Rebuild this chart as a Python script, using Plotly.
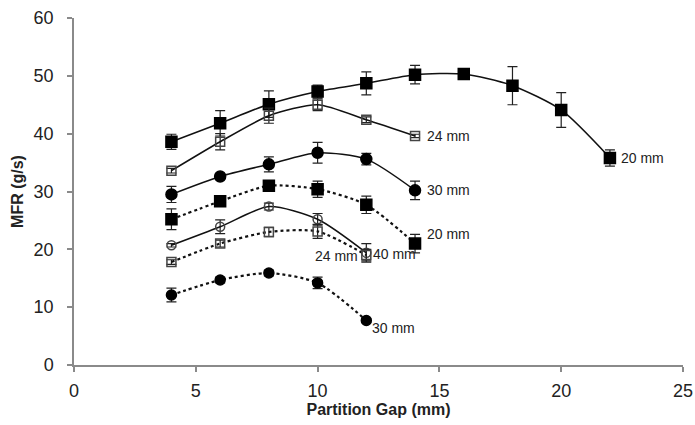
import plotly.graph_objects as go

# Partition gap values (mm)
gap_20_solid = [4, 6, 8, 10, 12, 14, 16, 18, 20, 22]
mfr_20_solid = [38.6, 41.8, 45.1, 47.3, 48.7, 50.2, 50.3, 48.3, 44.1, 35.8]
err_20_solid = [1.3, 2.2, 2.3, 1.1, 2.0, 1.6, 0.4, 3.3, 3.0, 1.4]

gap_24_solid = [4, 6, 8, 10, 12, 14]
mfr_24_solid = [33.6, 38.6, 43.1, 45.0, 42.4, 39.6]
err_24_solid = [0.4, 1.4, 1.3, 1.0, 0.5, 0.3]

gap_30_solid = [4, 6, 8, 10, 12, 14]
mfr_30_solid = [29.5, 32.6, 34.7, 36.7, 35.6, 30.2]
err_30_solid = [1.4, 0.4, 1.3, 1.8, 1.0, 1.6]

gap_20_dot = [4, 6, 8, 10, 12, 14]
mfr_20_dot = [25.2, 28.3, 31.0, 30.4, 27.7, 21.0]
err_20_dot = [1.8, 0.5, 0.5, 1.4, 1.5, 1.6]

gap_40_solid = [4, 6, 8, 10, 12]
mfr_40_solid = [20.7, 23.9, 27.4, 25.2, 19.4]
err_40_solid = [0.3, 1.2, 0.6, 1.0, 1.6]

gap_24_dot = [4, 6, 8, 10, 12]
mfr_24_dot = [17.8, 21.0, 23.0, 23.1, 19.0]
err_24_dot = [0.4, 0.6, 0.8, 1.2, 1.0]

gap_30_dot = [4, 6, 8, 10, 12]
mfr_30_dot = [12.1, 14.7, 15.9, 14.2, 7.7]
err_30_dot = [1.2, 0.5, 0.5, 1.0, 0.3]

x_ticks = [0, 5, 10, 15, 20, 25]
y_ticks = [0, 10, 20, 30, 40, 50, 60]

fig = go.Figure()

def add(xs, ys, es, symbol, size, dash, color="black"):
    fig.add_trace(go.Scatter(
        x=xs, y=ys, mode="lines+markers",
        line=dict(color="#111111", width=1.5 if dash == "solid" else 2.2, dash=dash, shape="spline", smoothing=0.7),
        marker=dict(symbol=symbol, size=size, color=color,
                    line=dict(color=color, width=1.5)),
        error_y=dict(type="data", array=es, visible=True, color="#222222", thickness=1.2, width=5),
        showlegend=False,
    ))

add(gap_20_solid, mfr_20_solid, err_20_solid, "square", 11, "solid")
add(gap_24_solid, mfr_24_solid, err_24_solid, "square-open", 9, "solid", "#444444")
add(gap_30_solid, mfr_30_solid, err_30_solid, "circle", 11, "solid")
add(gap_20_dot, mfr_20_dot, err_20_dot, "square", 11, "dot")
add(gap_40_solid, mfr_40_solid, err_40_solid, "circle-open", 9, "solid", "#444444")
add(gap_24_dot, mfr_24_dot, err_24_dot, "square-open", 9, "dot", "#444444")
add(gap_30_dot, mfr_30_dot, err_30_dot, "circle", 10, "dot")

font_txt = dict(family="Liberation Sans, Arial", size=14, color="#222222")
labels = [
    (gap_24_solid[-1], mfr_24_solid[-1], "24 mm", 10, 0),
    (gap_20_solid[-1], mfr_20_solid[-1], "20 mm", 9, 0),
    (gap_30_solid[-1], mfr_30_solid[-1], "30 mm", 10, 0),
    (gap_20_dot[-1], mfr_20_dot[-1], "20 mm", 10, 10),
    (gap_40_solid[-1], mfr_40_solid[-1], "40 mm", 5, -1),
    (gap_30_dot[-1], mfr_30_dot[-1], "30 mm", 4, -8),
]
for x, y, t, xs, ys in labels:
    fig.add_annotation(x=x, y=y, text=t, showarrow=False, xanchor="left",
                       xshift=xs, yshift=ys, font=font_txt)
fig.add_annotation(x=gap_24_dot[-1], y=mfr_24_dot[-1], text="24 mm", showarrow=False,
                   xanchor="right", xshift=-6, yshift=-1, font=font_txt)

axis_common = dict(
    showgrid=False, zeroline=False, showline=True, linecolor="#8a8a8a", linewidth=1.5,
    ticks="outside", tickcolor="#8a8a8a", ticklen=5, tickwidth=1.5, automargin=False,
    ticklabeloverflow="allow",
    tickfont=dict(family="Liberation Sans, Arial", size=18, color="#222222"),
)

fig.update_layout(
    width=695, height=425,
    margin=dict(l=74, r=12, t=18, b=60),
    paper_bgcolor="white", plot_bgcolor="white",
    xaxis=dict(range=[0, 25], tickvals=x_ticks, ticklabelstandoff=4, **axis_common,
               title=dict(text="<b>Partition Gap (mm)</b>", standoff=2,
                          font=dict(family="Liberation Sans, Arial", size=16, color="#222222"))),
    yaxis=dict(range=[0, 60], tickvals=y_ticks, ticklabelstandoff=10, **axis_common,
               title=dict(text="<b>MFR (g/s)</b>", standoff=6,
                          font=dict(family="Liberation Sans, Arial", size=16, color="#222222"))),
)

fig.write_html("out.html", config={"displayModeBar": False},
               post_script="document.body.style.margin='0px';document.body.style.overflow='hidden';")
